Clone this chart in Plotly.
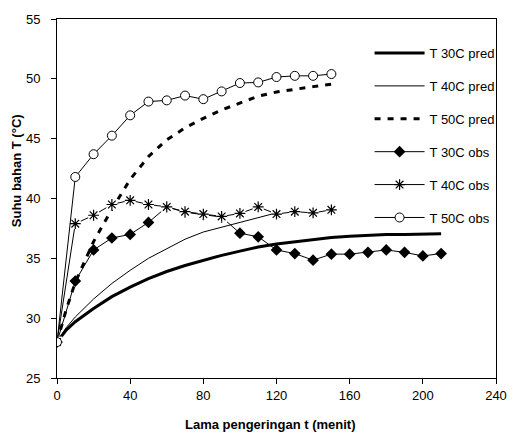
import plotly.graph_objects as go

# ---- data ----
t_pred30 = [0, 5, 10, 20, 30, 40, 50, 60, 70, 80, 90, 100, 110, 120, 130, 140, 150, 160, 170, 180, 190, 200, 210]
T_pred30 = [28, 29.0, 29.7, 30.8, 31.8, 32.6, 33.3, 33.9, 34.4, 34.85, 35.25, 35.6, 35.95, 36.2, 36.4, 36.6, 36.75, 36.85, 36.95, 37.0, 37.0, 37.05, 37.05]

t_pred40 = [0, 5, 10, 20, 30, 40, 50, 60, 70, 80, 90, 100, 110, 120]
T_pred40 = [28, 29.2, 30.1, 31.6, 32.9, 34.0, 35.0, 35.8, 36.6, 37.2, 37.6, 38.0, 38.4, 38.8]

t_pred50 = [0, 5, 10, 20, 30, 40, 50, 60, 70, 80, 90, 100, 110, 120, 130, 140, 150]
T_pred50 = [28, 30.7, 33.0, 36.4, 39.1, 41.6, 43.5, 44.9, 45.9, 46.7, 47.4, 48.0, 48.55, 48.9, 49.15, 49.35, 49.55]

t_obs30 = [0, 10, 20, 30, 40, 50, 60, 70, 80, 90, 100, 110, 120, 130, 140, 150, 160, 170, 180, 190, 200, 210]
T_obs30 = [28, 33.1, 35.7, 36.7, 37.0, 38.0, 39.3, 38.85, 38.65, 38.45, 37.1, 36.8, 35.7, 35.4, 34.85, 35.35, 35.35, 35.5, 35.7, 35.5, 35.2, 35.4]

t_obs40 = [0, 10, 20, 30, 40, 50, 60, 70, 80, 90, 100, 110, 120, 130, 140, 150]
T_obs40 = [28, 37.9, 38.6, 39.5, 39.85, 39.5, 39.3, 38.9, 38.7, 38.5, 38.75, 39.3, 38.7, 38.9, 38.8, 39.05]

t_obs50 = [0, 10, 20, 30, 40, 50, 60, 70, 80, 90, 100, 110, 120, 130, 140, 150]
T_obs50 = [28, 41.8, 43.7, 45.25, 46.95, 48.1, 48.2, 48.6, 48.3, 48.95, 49.65, 49.7, 50.15, 50.25, 50.25, 50.4]

x_ticks = [0, 40, 80, 120, 160, 200, 240]
y_ticks = [25, 30, 35, 40, 45, 50, 55]

FONT = "Liberation Sans, Arial, sans-serif"
fig = go.Figure()

fig.add_trace(go.Scatter(x=t_pred30, y=T_pred30, mode="lines", name="T 30C pred",
                         line=dict(color="black", width=3),
                         legendgroup="g1", legendrank=1))
fig.add_trace(go.Scatter(x=t_pred40, y=T_pred40, mode="lines", name="T 40C pred",
                         line=dict(color="black", width=1),
                         legendgroup="g2", legendrank=2))
fig.add_trace(go.Scatter(x=t_pred50, y=T_pred50, mode="lines", name="T 50C pred",
                         line=dict(color="black", width=3, dash="6px,7px"),
                         legendgroup="g3", legendrank=3))
fig.add_trace(go.Scatter(x=t_obs30, y=T_obs30, mode="lines+markers", name="T 30C obs",
                         line=dict(color="black", width=1),
                         marker=dict(symbol="diamond", size=9, color="black"),
                         legendgroup="g4", legendrank=4))
# T 40C obs: line, then white marker backgrounds, then asterisks
fig.add_trace(go.Scatter(x=t_obs40, y=T_obs40, mode="lines", showlegend=False,
                         line=dict(color="black", width=1), hoverinfo="skip"))
fig.add_trace(go.Scatter(x=t_obs40, y=T_obs40, mode="markers", showlegend=False,
                         marker=dict(symbol="square", size=11, color="white", line=dict(width=0)),
                         hoverinfo="skip"))
fig.add_trace(go.Scatter(x=t_obs40, y=T_obs40, mode="markers", showlegend=False,
                         marker=dict(symbol="asterisk", size=9, line=dict(color="black", width=1.2))))
fig.add_trace(go.Scatter(x=[None], y=[None], mode="lines+markers", name="T 40C obs",
                         line=dict(color="black", width=1),
                         marker=dict(symbol="asterisk", size=9, line=dict(color="black", width=1.2)),
                         legendgroup="g5", legendrank=5))
fig.add_trace(go.Scatter(x=t_obs50, y=T_obs50, mode="lines+markers", name="T 50C obs",
                         line=dict(color="black", width=1),
                         marker=dict(symbol="circle", size=9, color="white", line=dict(color="black", width=1)),
                         legendgroup="g6", legendrank=6))

axis_common = dict(showline=True, linecolor="black", linewidth=1, mirror=True,
                   ticks="outside", ticklen=5, tickcolor="black", showgrid=False, zeroline=False,
                   tickfont=dict(family=FONT, size=13, color="black"))

fig.update_xaxes(range=[0, 240], tickvals=x_ticks, **axis_common)
fig.update_yaxes(range=[25, 55], tickvals=y_ticks, ticklabelstandoff=8, **axis_common)

fig.update_layout(
    width=519, height=435,
    margin=dict(l=57, r=12, t=17, b=57),
    plot_bgcolor="white", paper_bgcolor="white",
    font=dict(family=FONT, size=13, color="black"),
    legend=dict(x=0.712, y=0.947, xanchor="left", yanchor="top",
                traceorder="grouped", tracegroupgap=13, itemwidth=50,
                bgcolor="rgba(0,0,0,0)", font=dict(family=FONT, size=13, color="black")),
    annotations=[
        dict(text="<b>Lama pengeringan t (menit)</b>", xref="paper", yref="paper",
             x=(275 - 57) / 450, y=-(425 - 378) / 361, xanchor="center", yanchor="middle",
             showarrow=False, font=dict(family=FONT, size=13, color="black")),
        dict(text="<b>Suhu bahan T (°C)</b>", xref="paper", yref="paper", textangle=-90,
             x=-(57 - 15) / 450, y=1 - (170 - 17) / 361, xanchor="center", yanchor="middle",
             showarrow=False, font=dict(family=FONT, size=13, color="black")),
    ],
)

fig.write_html("out.html")
